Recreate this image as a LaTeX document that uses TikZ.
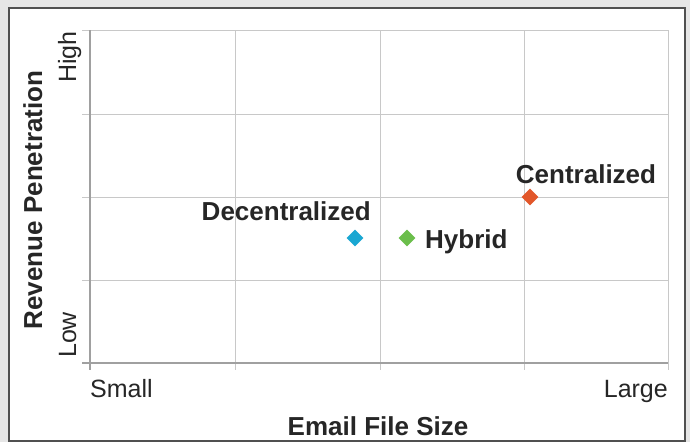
\documentclass[tikz,border=0pt]{standalone}
\usepackage{fontspec}
\setmainfont{Liberation Sans}
\usetikzlibrary{shapes.geometric}
\definecolor{gridc}{HTML}{C8C8C8}
\definecolor{axisc}{HTML}{A0A0A0}
\definecolor{framec}{HTML}{505050}
\definecolor{shadowc}{HTML}{E6E6E6}
\definecolor{txtc}{HTML}{262626}
\definecolor{blueD}{HTML}{1AA7D2}
\definecolor{greenD}{HTML}{6BBE4B}
\definecolor{orangeD}{HTML}{E2572A}
\tikzset{
  gridline/.style={draw=gridc, line width=1pt},
  axisline/.style={draw=axisc, line width=1.2pt},
  pointmark/.style={diamond, minimum width=17pt, minimum height=17pt, inner sep=0pt},
  ptlabel/.style={font=\fontsize{26}{29}\selectfont\bfseries, text=txtc, inner sep=0pt},
  ticklabel/.style={font=\fontsize{25}{28}\selectfont, text=txtc, inner sep=0pt},
  axistitle/.style={font=\fontsize{26}{29}\selectfont\bfseries, text=txtc, inner sep=0pt}
}
\begin{document}
\begin{tikzpicture}[x=1pt,y=-1pt]
\useasboundingbox (0,0) rectangle (690,442);
\fill[shadowc] (0,0) rectangle (690,442);
\fill[white] (9,8) rectangle (685,441);
\draw[framec, line width=1.6pt] (9,8) rectangle (685,441);
% grid
\foreach \y in {30,114,197,280} \draw[gridline] (82,\y) -- (668,\y);
\foreach \x in {235,380,524,668} \draw[gridline] (\x,30) -- (\x,370);
\draw[axisline] (90,30) -- (90,370);
\draw[axisline] (82,363) -- (668,363);
% points
\node[pointmark, fill=blueD] (dec) at (355,238) {};
\node[pointmark, fill=greenD] (hyb) at (407,238) {};
\node[pointmark, fill=orangeD] (cen) at (530,197) {};
\node[ptlabel, anchor=base east] (decl) at (371,220) {Decentralized};
\node[ptlabel, anchor=base west] (hybl) at (425,248) {Hybrid};
\node[ptlabel, anchor=base] (cenl) at (586,183) {Centralized};
% axis labels
\node[ticklabel, anchor=base west] (small) at (90,397) {Small};
\node[ticklabel, anchor=base east] (large) at (668,397) {Large};
\node[axistitle, anchor=base] (xt) at (378,435) {Email File Size};
\node[ticklabel, rotate=90, anchor=base east] (high) at (76,31) {High};
\node[ticklabel, rotate=90, anchor=base west] (low) at (76,358) {Low};
\node[axistitle, rotate=90, anchor=base] (yt) at (42,200) {Revenue Penetration};
\end{tikzpicture}
\end{document}
